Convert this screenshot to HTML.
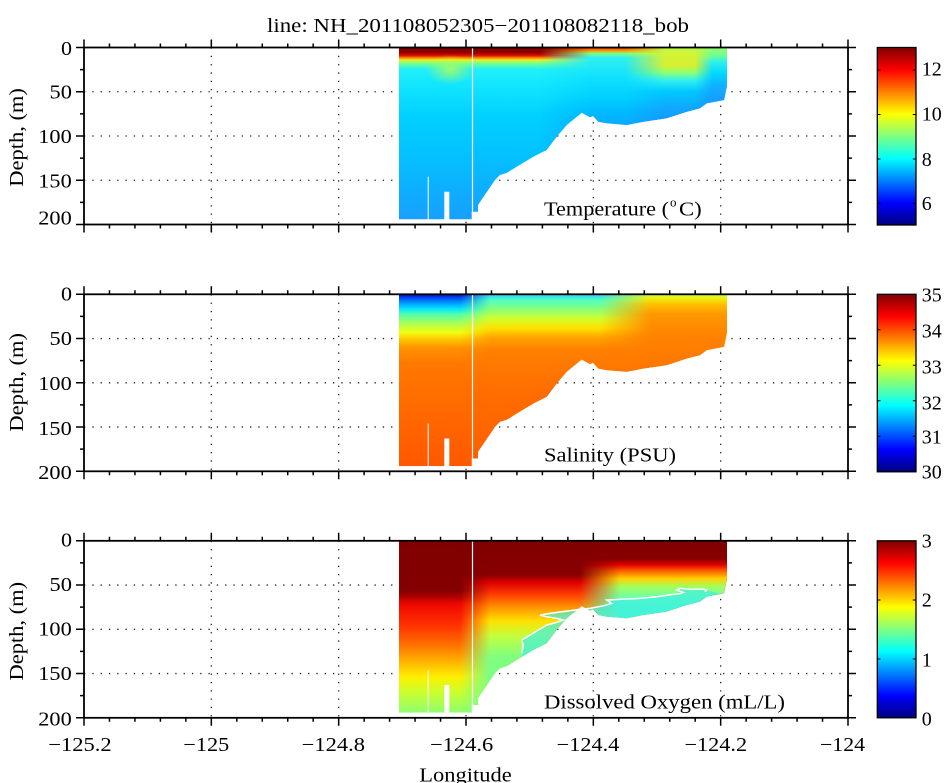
<!DOCTYPE html>
<html>
<head>
<meta charset="utf-8">
<style>
html,body{margin:0;padding:0;background:#fff;}
svg{display:block;}
text{font-family:"Liberation Serif","Times New Roman",serif;fill:#000;}
</style>
</head>
<body>
<svg width="950" height="783" viewBox="0 0 950 783" xmlns="http://www.w3.org/2000/svg">
<defs>
  <clipPath id="dc" clipPathUnits="userSpaceOnUse">
    <polygon points="399,0 727,0 727,38 724,52.5 706.7,55.8 700,60.8 686.7,64.2 666.7,70.8 643.3,74.2 626.7,77.5 606.7,75.8 598.3,74.2 593,68.5 590,69.8 581.7,65.2 566.7,77.5 556.7,89.2 546.7,102.5 533.3,109.2 516.7,119.2 506.7,125.5 500,127.5 495,132.5 478,157.5 478,164.2 471.7,164.2 471.7,171.8 449.3,171.8 449.3,144.2 444.3,144.2 444.3,171.8 428.7,171.8 428.7,129.2 427.7,129.2 427.7,171.8 399,171.8"/>
  </clipPath>

  <linearGradient id="jet" x1="0" y1="0" x2="0" y2="1">
    <stop offset="0" stop-color="#800000"/>
    <stop offset="0.125" stop-color="#ff0000"/>
    <stop offset="0.375" stop-color="#ffff00"/>
    <stop offset="0.625" stop-color="#00ffff"/>
    <stop offset="0.875" stop-color="#0000ff"/>
    <stop offset="1" stop-color="#000080"/>
  </linearGradient>

  <!-- Temperature gradients -->
  <linearGradient id="tL" gradientUnits="userSpaceOnUse" x1="0" y1="0" x2="0" y2="200">
    <stop offset="0" stop-color="#7a0000"/>
    <stop offset="0.025" stop-color="#900000"/>
    <stop offset="0.04" stop-color="#d81000"/>
    <stop offset="0.05" stop-color="#ff7000"/>
    <stop offset="0.062" stop-color="#e8f020"/>
    <stop offset="0.08" stop-color="#70ff90"/>
    <stop offset="0.11" stop-color="#20f0f8"/>
    <stop offset="0.2" stop-color="#10e4ff"/>
    <stop offset="0.35" stop-color="#00d0ff"/>
    <stop offset="0.55" stop-color="#05c0ff"/>
    <stop offset="0.75" stop-color="#10aaff"/>
    <stop offset="0.86" stop-color="#18a0ff"/>
  </linearGradient>
  <linearGradient id="tM" gradientUnits="userSpaceOnUse" x1="0" y1="0" x2="0" y2="200">
    <stop offset="0" stop-color="#e83000"/>
    <stop offset="0.015" stop-color="#ff9000"/>
    <stop offset="0.03" stop-color="#80ff80"/>
    <stop offset="0.05" stop-color="#30f0f0"/>
    <stop offset="0.15" stop-color="#10e0ff"/>
    <stop offset="0.25" stop-color="#00d0ff"/>
    <stop offset="0.33" stop-color="#00b8ff"/>
    <stop offset="0.4" stop-color="#10a8ff"/>
  </linearGradient>
  <linearGradient id="tR" gradientUnits="userSpaceOnUse" x1="0" y1="0" x2="0" y2="200">
    <stop offset="0" stop-color="#b0ff50"/>
    <stop offset="0.02" stop-color="#d0f438"/>
    <stop offset="0.09" stop-color="#d8f030"/>
    <stop offset="0.125" stop-color="#90ff70"/>
    <stop offset="0.165" stop-color="#30f0f0"/>
    <stop offset="0.22" stop-color="#00c8ff"/>
    <stop offset="0.3" stop-color="#10a8ff"/>
    <stop offset="0.4" stop-color="#1890ff"/>
  </linearGradient>
  <linearGradient id="tF" gradientUnits="userSpaceOnUse" x1="0" y1="0" x2="0" y2="200">
    <stop offset="0" stop-color="#90ff70"/>
    <stop offset="0.04" stop-color="#70ff90"/>
    <stop offset="0.07" stop-color="#30f0e8"/>
    <stop offset="0.13" stop-color="#00d8ff"/>
    <stop offset="0.19" stop-color="#10b0ff"/>
    <stop offset="0.28" stop-color="#1898ff"/>
  </linearGradient>
  <radialGradient id="blob">
    <stop offset="0" stop-color="#c0ff40" stop-opacity="0.75"/>
    <stop offset="1" stop-color="#c0ff40" stop-opacity="0"/>
  </radialGradient>

  <!-- Salinity gradients -->
  <linearGradient id="sL" gradientUnits="userSpaceOnUse" x1="0" y1="0" x2="0" y2="200">
    <stop offset="0" stop-color="#0010c0"/>
    <stop offset="0.015" stop-color="#0040f0"/>
    <stop offset="0.04" stop-color="#0090ff"/>
    <stop offset="0.07" stop-color="#00e0ff"/>
    <stop offset="0.1" stop-color="#50ffb0"/>
    <stop offset="0.14" stop-color="#a0ff60"/>
    <stop offset="0.19" stop-color="#f0ff10"/>
    <stop offset="0.23" stop-color="#ffc000"/>
    <stop offset="0.27" stop-color="#ff9000"/>
    <stop offset="0.35" stop-color="#ff7800"/>
    <stop offset="0.6" stop-color="#ff6800"/>
    <stop offset="0.86" stop-color="#ff5800"/>
  </linearGradient>
  <linearGradient id="sM" gradientUnits="userSpaceOnUse" x1="0" y1="0" x2="0" y2="200">
    <stop offset="0" stop-color="#30d0ff"/>
    <stop offset="0.03" stop-color="#50ffc0"/>
    <stop offset="0.08" stop-color="#90ff70"/>
    <stop offset="0.12" stop-color="#d0ff30"/>
    <stop offset="0.17" stop-color="#ffe000"/>
    <stop offset="0.22" stop-color="#ffa000"/>
    <stop offset="0.28" stop-color="#ff8000"/>
    <stop offset="0.5" stop-color="#ff6c00"/>
    <stop offset="0.86" stop-color="#ff6000"/>
  </linearGradient>
  <linearGradient id="sR" gradientUnits="userSpaceOnUse" x1="0" y1="0" x2="0" y2="200">
    <stop offset="0" stop-color="#c0ff40"/>
    <stop offset="0.02" stop-color="#f0f010"/>
    <stop offset="0.05" stop-color="#ffc000"/>
    <stop offset="0.1" stop-color="#ff9800"/>
    <stop offset="0.2" stop-color="#ff8400"/>
    <stop offset="0.4" stop-color="#ff7400"/>
  </linearGradient>

  <!-- Oxygen gradients -->
  <linearGradient id="oL" gradientUnits="userSpaceOnUse" x1="0" y1="0" x2="0" y2="200">
    <stop offset="0" stop-color="#800000"/>
    <stop offset="0.25" stop-color="#850000"/>
    <stop offset="0.28" stop-color="#b00000"/>
    <stop offset="0.32" stop-color="#f00800"/>
    <stop offset="0.42" stop-color="#ff3000"/>
    <stop offset="0.52" stop-color="#ff7000"/>
    <stop offset="0.6" stop-color="#ffb000"/>
    <stop offset="0.68" stop-color="#ffee00"/>
    <stop offset="0.76" stop-color="#c8ff30"/>
    <stop offset="0.86" stop-color="#90ff70"/>
  </linearGradient>
  <linearGradient id="oM" gradientUnits="userSpaceOnUse" x1="0" y1="0" x2="0" y2="200">
    <stop offset="0" stop-color="#800000"/>
    <stop offset="0.17" stop-color="#880000"/>
    <stop offset="0.21" stop-color="#e00000"/>
    <stop offset="0.27" stop-color="#ff4000"/>
    <stop offset="0.33" stop-color="#ff9000"/>
    <stop offset="0.40" stop-color="#ffe000"/>
    <stop offset="0.48" stop-color="#c0ff40"/>
    <stop offset="0.58" stop-color="#80ff80"/>
    <stop offset="0.86" stop-color="#70ff90"/>
  </linearGradient>
  <linearGradient id="oR" gradientUnits="userSpaceOnUse" x1="0" y1="0" x2="0" y2="200">
    <stop offset="0" stop-color="#800000"/>
    <stop offset="0.09" stop-color="#880000"/>
    <stop offset="0.12" stop-color="#e00000"/>
    <stop offset="0.15" stop-color="#ff6000"/>
    <stop offset="0.19" stop-color="#ffd000"/>
    <stop offset="0.23" stop-color="#a0ff60"/>
    <stop offset="0.28" stop-color="#70ffa0"/>
    <stop offset="0.32" stop-color="#50ffc0"/>
    <stop offset="0.4" stop-color="#50ffc0"/>
  </linearGradient>

  <linearGradient id="rT1" gradientUnits="userSpaceOnUse" x1="540" y1="0" x2="590" y2="0"><stop offset="0" stop-color="#000"/><stop offset="1" stop-color="#fff"/></linearGradient>
  <linearGradient id="rT2" gradientUnits="userSpaceOnUse" x1="625" y1="0" x2="665" y2="0"><stop offset="0" stop-color="#000"/><stop offset="1" stop-color="#fff"/></linearGradient>
  <linearGradient id="rT3" gradientUnits="userSpaceOnUse" x1="695" y1="0" x2="712" y2="0"><stop offset="0" stop-color="#000"/><stop offset="1" stop-color="#fff"/></linearGradient>
  <linearGradient id="rS1" gradientUnits="userSpaceOnUse" x1="460" y1="0" x2="490" y2="0"><stop offset="0" stop-color="#000"/><stop offset="1" stop-color="#fff"/></linearGradient>
  <linearGradient id="rS2" gradientUnits="userSpaceOnUse" x1="600" y1="0" x2="650" y2="0"><stop offset="0" stop-color="#000"/><stop offset="1" stop-color="#fff"/></linearGradient>
  <linearGradient id="rO1" gradientUnits="userSpaceOnUse" x1="460" y1="0" x2="490" y2="0"><stop offset="0" stop-color="#000"/><stop offset="1" stop-color="#fff"/></linearGradient>
  <linearGradient id="rO2" gradientUnits="userSpaceOnUse" x1="580" y1="0" x2="620" y2="0"><stop offset="0" stop-color="#000"/><stop offset="1" stop-color="#fff"/></linearGradient>
  <mask id="mT1" maskUnits="userSpaceOnUse" x="380" y="-10" width="360" height="200"><rect x="380" y="-10" width="360" height="200" fill="url(#rT1)"/></mask>
  <mask id="mT2" maskUnits="userSpaceOnUse" x="380" y="-10" width="360" height="200"><rect x="380" y="-10" width="360" height="200" fill="url(#rT2)"/></mask>
  <mask id="mT3" maskUnits="userSpaceOnUse" x="380" y="-10" width="360" height="200"><rect x="380" y="-10" width="360" height="200" fill="url(#rT3)"/></mask>
  <mask id="mS1" maskUnits="userSpaceOnUse" x="380" y="-10" width="360" height="200"><rect x="380" y="-10" width="360" height="200" fill="url(#rS1)"/></mask>
  <mask id="mS2" maskUnits="userSpaceOnUse" x="380" y="-10" width="360" height="200"><rect x="380" y="-10" width="360" height="200" fill="url(#rS2)"/></mask>
  <mask id="mO1" maskUnits="userSpaceOnUse" x="380" y="-10" width="360" height="200"><rect x="380" y="-10" width="360" height="200" fill="url(#rO1)"/></mask>
  <mask id="mO2" maskUnits="userSpaceOnUse" x="380" y="-10" width="360" height="200"><rect x="380" y="-10" width="360" height="200" fill="url(#rO2)"/></mask>

  <g id="grid" stroke="#222" stroke-width="1.3" stroke-dasharray="1.3 7" fill="none">
    <path d="M211.33 0V177M338.67 0V177M466 0V177M593.33 0V177M720.67 0V177"/>
    <path d="M84 44.25H848M84 88.5H848M84 132.75H848"/>
  </g>

  <g id="axes" fill="none" stroke="#000">
    <rect x="84" y="0" width="764" height="177" stroke-width="1.8"/>
    <path stroke-width="1.5" d="M84 0V-8M211.33 0V-8M338.67 0V-8M466 0V-8M593.33 0V-8M720.67 0V-8M848 0V-8
      M84 177V185M211.33 177V185M338.67 177V185M466 177V185M593.33 177V185M720.67 177V185M848 177V185
      M109.47 0V-4M134.93 0V-4M160.4 0V-4M185.87 0V-4M236.8 0V-4M262.27 0V-4M287.73 0V-4M313.2 0V-4M364.13 0V-4M389.6 0V-4M415.07 0V-4M440.53 0V-4M491.47 0V-4M516.93 0V-4M542.4 0V-4M567.87 0V-4M618.8 0V-4M644.27 0V-4M669.73 0V-4M695.2 0V-4M746.13 0V-4M771.6 0V-4M797.07 0V-4M822.53 0V-4
      M109.47 177V181M134.93 177V181M160.4 177V181M185.87 177V181M236.8 177V181M262.27 177V181M287.73 177V181M313.2 177V181M364.13 177V181M389.6 177V181M415.07 177V181M440.53 177V181M491.47 177V181M516.93 177V181M542.4 177V181M567.87 177V181M618.8 177V181M644.27 177V181M669.73 177V181M695.2 177V181M746.13 177V181M771.6 177V181M797.07 177V181M822.53 177V181
      M84 0H76M84 44.25H76M84 88.5H76M84 132.75H76M84 177H76
      M848 0H856M848 44.25H856M848 88.5H856M848 132.75H856M848 177H856
      M84 22.13H80M84 66.38H80M84 110.63H80M84 154.88H80
      M848 22.13H852M848 66.38H852M848 110.63H852M848 154.88H852"/>
  </g>
</defs>

<rect x="0" y="0" width="950" height="783" fill="#fff"/>

<text x="267" y="32" font-size="20" textLength="422" lengthAdjust="spacingAndGlyphs">line: NH_201108052305−201108082118_bob</text>

<!-- Panel 1: Temperature -->
<g transform="translate(0,47.5)">
  <use href="#grid"/>
  <g clip-path="url(#dc)">
    <rect x="395" y="-2" width="335" height="180" fill="url(#tL)"/>
    <ellipse cx="450" cy="22" rx="24" ry="15" fill="url(#blob)"/>
    <rect x="395" y="-2" width="335" height="180" fill="url(#tM)" mask="url(#mT1)"/>
    <rect x="395" y="-2" width="335" height="180" fill="url(#tR)" mask="url(#mT2)"/>
    <rect x="395" y="-2" width="335" height="180" fill="url(#tF)" mask="url(#mT3)"/>
  </g>
  <line x1="472.5" y1="0" x2="472.5" y2="166" stroke="#fff" stroke-width="1.2"/>
  <use href="#axes"/>
</g>
<text x="61" y="55" font-size="20" textLength="11" lengthAdjust="spacingAndGlyphs">0</text>
<text x="49.5" y="98.3" font-size="20" textLength="22.4" lengthAdjust="spacingAndGlyphs">50</text>
<text x="38.3" y="143" font-size="20" textLength="33.4" lengthAdjust="spacingAndGlyphs">100</text>
<text x="38.3" y="187.3" font-size="20" textLength="33.4" lengthAdjust="spacingAndGlyphs">150</text>
<text x="38.3" y="224.7" font-size="20" textLength="33.4" lengthAdjust="spacingAndGlyphs">200</text>
<text transform="translate(23,137.4) rotate(-90)" x="-49.3" y="0" font-size="20" textLength="98.6" lengthAdjust="spacingAndGlyphs">Depth, (m)</text>
<text x="544" y="215.5" font-size="20" textLength="125" lengthAdjust="spacingAndGlyphs">Temperature (</text>
<text x="670" y="206.5" font-size="13">o</text>
<text x="679" y="215.5" font-size="20" textLength="22.7" lengthAdjust="spacingAndGlyphs">C)</text>
<rect x="877.3" y="47.5" width="38.7" height="177.5" fill="url(#jet)" stroke="#000" stroke-width="1.3"/>
<path d="M877.3 70H880.5M916 70H912.8M877.3 114.5H880.5M916 114.5H912.8M877.3 159H880.5M916 159H912.8M877.3 203.5H880.5M916 203.5H912.8" stroke="#000" stroke-width="1"/>
<text x="921.7" y="75.5" font-size="20">12</text>
<text x="921.7" y="120.5" font-size="20">10</text>
<text x="921.7" y="166" font-size="20">8</text>
<text x="921.7" y="210" font-size="20">6</text>

<!-- Panel 2: Salinity -->
<g transform="translate(0,294.3)">
  <use href="#grid"/>
  <g clip-path="url(#dc)">
    <rect x="395" y="-2" width="335" height="180" fill="url(#sL)"/>
    <rect x="395" y="-2" width="335" height="180" fill="url(#sM)" mask="url(#mS1)"/>
    <rect x="395" y="-2" width="335" height="180" fill="url(#sR)" mask="url(#mS2)"/>
  </g>
  <line x1="472.5" y1="0" x2="472.5" y2="166" stroke="#fff" stroke-width="1.2"/>
  <use href="#axes"/>
</g>
<text x="61" y="300.7" font-size="20" textLength="11" lengthAdjust="spacingAndGlyphs">0</text>
<text x="49.5" y="345" font-size="20" textLength="22.4" lengthAdjust="spacingAndGlyphs">50</text>
<text x="38.3" y="390" font-size="20" textLength="33.4" lengthAdjust="spacingAndGlyphs">100</text>
<text x="38.3" y="435" font-size="20" textLength="33.4" lengthAdjust="spacingAndGlyphs">150</text>
<text x="38.3" y="479" font-size="20" textLength="33.4" lengthAdjust="spacingAndGlyphs">200</text>
<text transform="translate(23,382.3) rotate(-90)" x="-49.3" y="0" font-size="20" textLength="98.6" lengthAdjust="spacingAndGlyphs">Depth, (m)</text>
<text x="544" y="461.5" font-size="20" textLength="132" lengthAdjust="spacingAndGlyphs">Salinity (PSU)</text>
<rect x="877.3" y="294.3" width="38.7" height="177.5" fill="url(#jet)" stroke="#000" stroke-width="1.3"/>
<path d="M877.3 329.8H880.5M916 329.8H912.8M877.3 365.3H880.5M916 365.3H912.8M877.3 400.8H880.5M916 400.8H912.8M877.3 436.3H880.5M916 436.3H912.8" stroke="#000" stroke-width="1"/>
<text x="921.7" y="301.6" font-size="20">35</text>
<text x="921.7" y="337.3" font-size="20">34</text>
<text x="921.7" y="373.3" font-size="20">33</text>
<text x="921.7" y="409.3" font-size="20">32</text>
<text x="921.7" y="443.3" font-size="20">31</text>
<text x="921.7" y="478.3" font-size="20">30</text>

<!-- Panel 3: Dissolved Oxygen -->
<g transform="translate(0,540.8)">
  <use href="#grid"/>
  <g clip-path="url(#dc)">
    <rect x="395" y="-2" width="335" height="180" fill="url(#oL)"/>
    <rect x="395" y="-2" width="335" height="180" fill="url(#oM)" mask="url(#mO1)"/>
    <rect x="395" y="-2" width="335" height="180" fill="url(#oR)" mask="url(#mO2)"/>
    <polygon fill="#40f0e0" fill-opacity="0.7" points="521.7,112.6 523.3,104.3 521.7,99.3 530,94.3 538.3,89.3 546.7,84.3 556.7,81.6 563.3,79.3 556.7,77.6 546.7,76 540,74.3 550,72.6 566.7,70.3 581.7,68.3 590,67.6 603.3,65 611.7,62.6 606.7,59.3 623.3,58.3 640,57.6 656.7,56 673.3,53.6 680,53 683.3,51.6 676.7,49.3 680,47.6 690,48.6 703.3,48.3 706.7,49.3 727,55 727,200 521.7,200"/>
  </g>
  <polyline fill="none" stroke="#fff" stroke-width="1.5" points="521.7,112.6 523.3,104.3 521.7,99.3 530,94.3 538.3,89.3 546.7,84.3 556.7,81.6 563.3,79.3 556.7,77.6 546.7,76 540,74.3 550,72.6 566.7,70.3 581.7,68.3 590,67.6 603.3,65 611.7,62.6 606.7,59.3 623.3,58.3 640,57.6 656.7,56 673.3,53.6 680,53 683.3,51.6 676.7,49.3 680,47.6 690,48.6 703.3,48.3 706.7,49.3 705,51"/>
  <line x1="472.5" y1="0" x2="472.5" y2="166" stroke="#fff" stroke-width="1.2"/>
  <use href="#axes"/>
</g>
<text x="61" y="546.7" font-size="20" textLength="11" lengthAdjust="spacingAndGlyphs">0</text>
<text x="49.5" y="591" font-size="20" textLength="22.4" lengthAdjust="spacingAndGlyphs">50</text>
<text x="38.3" y="635.7" font-size="20" textLength="33.4" lengthAdjust="spacingAndGlyphs">100</text>
<text x="38.3" y="680" font-size="20" textLength="33.4" lengthAdjust="spacingAndGlyphs">150</text>
<text x="38.3" y="725.5" font-size="20" textLength="33.4" lengthAdjust="spacingAndGlyphs">200</text>
<text transform="translate(23,631.2) rotate(-90)" x="-49.3" y="0" font-size="20" textLength="98.6" lengthAdjust="spacingAndGlyphs">Depth, (m)</text>
<text x="544" y="708.3" font-size="20" textLength="241" lengthAdjust="spacingAndGlyphs">Dissolved Oxygen (mL/L)</text>
<rect x="877.3" y="540.8" width="38.7" height="177" fill="url(#jet)" stroke="#000" stroke-width="1.3"/>
<path d="M877.3 600H880.5M916 600H912.8M877.3 659H880.5M916 659H912.8" stroke="#000" stroke-width="1"/>
<text x="921.7" y="547.3" font-size="20">3</text>
<text x="921.7" y="606.6" font-size="20">2</text>
<text x="921.7" y="666.6" font-size="20">1</text>
<text x="921.7" y="725.6" font-size="20">0</text>

<text x="48.3" y="751" font-size="20" textLength="63.4" lengthAdjust="spacingAndGlyphs">−125.2</text>
<text x="183.3" y="751" font-size="20" textLength="46" lengthAdjust="spacingAndGlyphs">−125</text>
<text x="301.7" y="751" font-size="20" textLength="63.3" lengthAdjust="spacingAndGlyphs">−124.8</text>
<text x="430" y="751" font-size="20" textLength="63.3" lengthAdjust="spacingAndGlyphs">−124.6</text>
<text x="556.7" y="751" font-size="20" textLength="62.6" lengthAdjust="spacingAndGlyphs">−124.4</text>
<text x="684.5" y="751" font-size="20" textLength="62.6" lengthAdjust="spacingAndGlyphs">−124.2</text>
<text x="820" y="751" font-size="20" textLength="45" lengthAdjust="spacingAndGlyphs">−124</text>
<text x="419.3" y="781.5" font-size="20" textLength="92.4" lengthAdjust="spacingAndGlyphs">Longitude</text>
</svg>
</body>
</html>
